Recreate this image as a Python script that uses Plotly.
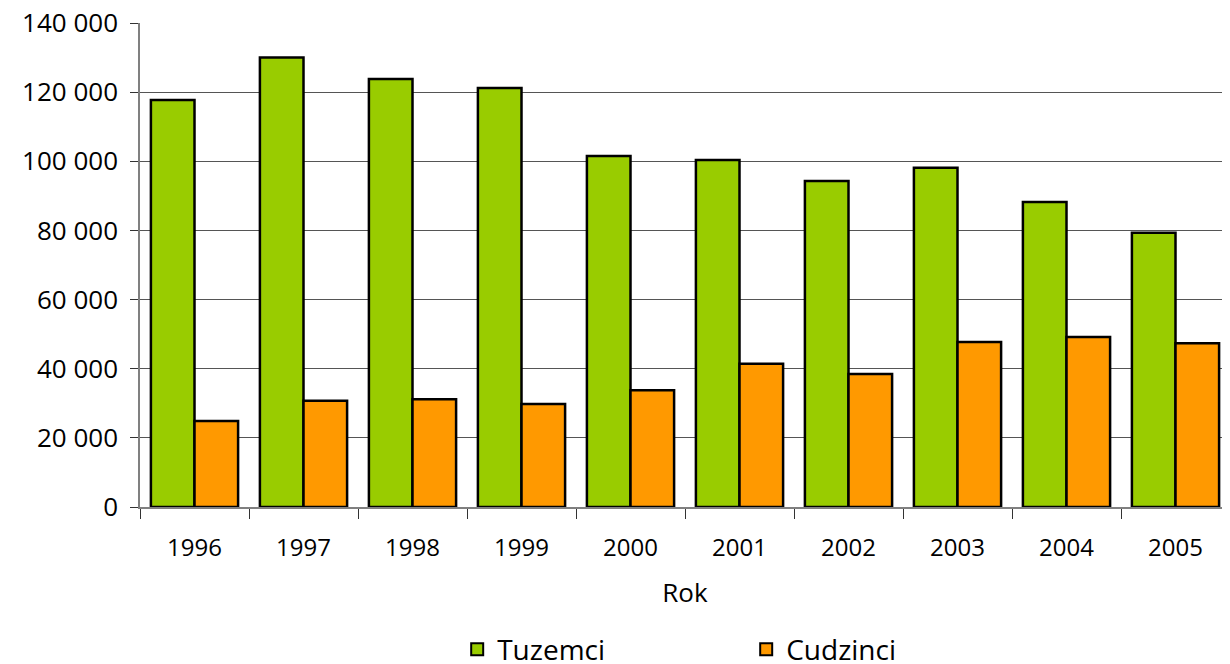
import plotly.graph_objects as go

years = ["1996", "1997", "1998", "1999", "2000", "2001", "2002", "2003", "2004", "2005"]
tuzemci = [117700, 130000, 123800, 121200, 101500, 100400, 94300, 98100, 88200, 79300]
cudzinci = [24900, 30700, 31200, 29800, 33800, 41400, 38500, 47700, 49200, 47400]

FONT = "Open Sans"

fig = go.Figure()
fig.add_trace(go.Bar(x=years, y=tuzemci, name="Tuzemci",
                     marker=dict(color="#99CC00", line=dict(color="black", width=2.5))))
fig.add_trace(go.Bar(x=years, y=cudzinci, name="Cudzinci",
                     marker=dict(color="#FF9900", line=dict(color="black", width=2.5))))

fig.update_layout(
    width=1222, height=656,
    margin=dict(l=132, r=0, t=15, b=157, autoexpand=False),
    plot_bgcolor="white", paper_bgcolor="white",
    barmode="group", bargap=0.2, bargroupgap=0,
    separators=". ",
    font=dict(family=FONT, size=24, color="black"),
    showlegend=True,
    legend=dict(orientation="h", xanchor="left", x=0.291, yref="container", y=0.022,
                yanchor="middle", entrywidth=244, font=dict(size=28),
                itemsizing="constant"),
    xaxis=dict(title=dict(text="Rok", font=dict(size=26), standoff=22),
               automargin=False,
               showline=True, linecolor="#808080", linewidth=1.5,
               ticks="outside", tickson="boundaries", ticklen=10, tickcolor="#333",
               ticklabelstandoff=18, showgrid=False),
    yaxis=dict(range=[0, 140000], dtick=20000, tickformat=",d", automargin=False,
               tickfont=dict(size=26), ticklabeloverflow="allow", ticklabelstandoff=7,
               showline=True, linecolor="#808080", linewidth=1.5,
               ticks="outside", ticklen=8, tickcolor="#333",
               showgrid=True, gridcolor="#555", gridwidth=1, zeroline=False),
)

fig.write_html("out.html")
